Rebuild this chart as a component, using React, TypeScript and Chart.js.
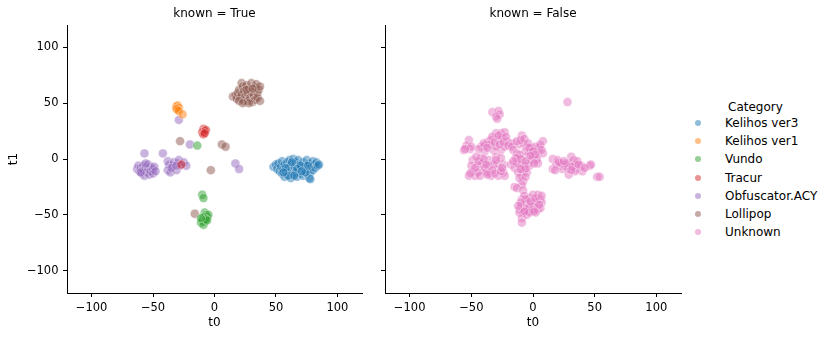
import React, { useEffect, useRef } from 'react';
import { Chart, registerables } from 'chart.js';

Chart.register(...registerables);

const FONT = "'DejaVu Sans', sans-serif";
const TEXT_COLOR = '#000';

const CATEGORIES = ['Kelihos ver3', 'Kelihos ver1', 'Vundo', 'Tracur', 'Obfuscator.ACY', 'Lollipop', 'Unknown'];
const COLORS = ['#1f77b4', '#ff7f0e', '#2ca02c', '#d62728', '#9467bd', '#8c564b', '#e377c2'];
const PANEL_TITLES = ['known = True', 'known = False'];
const X_TICKS = [-100, -50, 0, 50, 100];
const Y_TICKS = [-100, -50, 0, 50, 100];
const AXIS_MIN = -120;
const AXIS_MAX = 120;

// known = True
const kelihosVer3: number[][] = [
  [48, -7], [50, -5], [51, -9], [52, -4], [53, -11], [54, -7], [55, -2], [55, -13], [56, -9], [57, -5],
  [57, -16], [58, -11], [59, -3], [59, -14], [60, -8], [61, -1], [61, -12], [62, -5], [62, -17], [63, -10],
  [64, 0], [64, -14], [65, -7], [66, -3], [66, -12], [67, -16], [68, -9], [68, -1], [69, -5], [70, -13],
  [71, -8], [72, -3], [72, -15], [73, -10], [74, -6], [75, -1], [75, -13], [76, -9], [77, -4], [77, -17],
  [78, -12], [78, -18], [79, -7], [80, -2], [80, -10], [81, -5], [82, -8], [83, -3], [84, -6], [85, -5],
  [58, -8], [63, -3], [67, -9], [70, -6], [74, -12], [60, -15], [56, -12], [65, -15], [76, -6], [71, -11],
];
const kelihosVer1: number[][] = [
  [-31, 47], [-30, 48], [-29, 46], [-30, 44], [-31, 45], [-29, 43], [-26, 40],
];
const vundo: number[][] = [
  [-14, 12], [-10, -32], [-9, -35], [-8, -48], [-7, -50], [-6, -52], [-5, -50], [-9, -52], [-10, -55],
  [-8, -56], [-11, -57], [-9, -59], [-7, -54], [-6, -55], [-11, -53],
];
const tracur: number[][] = [
  [-9, 27], [-8, 25], [-10, 24], [-9, 22], [-7, 26], [-8, 23], [-27, -5],
];
const obfuscatorACY: number[][] = [
  [-29, 35], [-20, 13], [-42, 5], [-57, 5], [17, -4], [20, -9],
  [-63, -9], [-62, -6], [-61, -11], [-60, -8], [-59, -13], [-58, -6], [-58, -10], [-57, -15], [-56, -8],
  [-55, -12], [-54, -5], [-54, -9], [-53, -14], [-52, -7], [-52, -11], [-50, -9], [-50, -13], [-49, -7],
  [-48, -11], [-60, -12], [-56, -4],
  [-38, -2], [-37, -5], [-38, -10], [-36, -12], [-34, -6], [-33, -3], [-31, -10], [-30, -4], [-29, -1],
  [-28, -6], [-25, -3], [-23, -6], [-35, -8], [-31, -6],
];
const lollipop: number[][] = [
  [-28, 16], [6, 13], [9, 11], [-3, -10], [-16, -49],
  [15, 56], [17, 57], [18, 54], [19, 59], [20, 62], [21, 55], [22, 68], [22, 58], [23, 65], [24, 52],
  [24, 61], [25, 56], [26, 66], [27, 59], [27, 52], [28, 63], [29, 55], [30, 68], [30, 60], [31, 51],
  [32, 57], [33, 64], [33, 53], [34, 67], [35, 59], [35, 55], [36, 62], [37, 52], [37, 65], [20, 52],
  [26, 62], [31, 63], [28, 50], [23, 50],
];

// known = False
const unknown: number[][] = [
  [28, 51],
  [-33, 42], [-28, 43], [-27, 40], [-30, 38], [-29, 36],
  [-52, 17], [-54, 12], [-56, 8], [-51, 9], [-50, 11], [-55, 9],
  [-42, 11], [-39, 12], [-36, 16], [-34, 17], [-30, 23], [-26, 23], [-23, 24], [-28, 17], [-25, 19],
  [-21, 16], [-19, 14], [-15, 14], [-11, 13], [-9, 21], [-8, 14], [-5, 11], [-1, 10], [1, 6], [4, 5],
  [5, 10], [8, 16], [8, 5], [-39, 7], [-32, 8], [-26, 8], [-30, 11], [-35, 13], [-23, 11],
  [-44, 9], [-40, 14], [-37, 10], [-33, 20], [-31, 15], [-28, 21], [-27, 13], [-24, 15], [-22, 20], [-20, 12],
  [-17, 11], [-13, 16], [-10, 17], [-7, 18], [-4, 14], [-2, 6], [2, 11], [6, 13], [3, 1], [7, 8],
  [-49, -1], [-50, -6], [-49, -11], [-52, -15], [-47, -15], [-42, 1], [-41, -4], [-42, -10], [-39, -8],
  [-36, -1], [-36, -6], [-35, -12], [-34, -15], [-30, 2], [-29, -4], [-28, -9], [-28, -15], [-24, -5],
  [-24, -12], [-23, -15], [-32, -5], [-38, -12], [-45, -5], [-45, -12], [-26, 1],
  [-47, -8], [-44, -2], [-40, 0], [-38, -5], [-33, -10], [-31, -13], [-26, -11], [-25, -8], [-30, -1],
  [-46, 2], [-51, -13], [-43, -15], [-37, -14],
  [-16, 8], [-13, 5], [-12, 1], [-11, -4], [-9, -6], [-8, -11], [-9, -15], [-8, -20], [-5, 2], [-4, -4],
  [-3, -6], [-1, -1], [0, 2], [3, -1], [4, -4], [-6, 7], [-3, 10], [-18, -5], [-15, -8], [-12, -12],
  [-13, -4], [-7, -6], [-11, 4], [0, 7], [2, 4], [-5, -12], [-9, -23],
  [-14, 1], [-10, 0], [-6, -2], [-2, 3], [-6, -9], [-10, -9], [-11, -17], [-6, -16], [1, -4], [-16, -2],
  [-15, -25], [-13, -26], [-8, -28],
  [-9, -36], [-7, -33], [-3, -35], [0, -32], [4, -32], [6, -36], [7, -39], [3, -38], [-1, -39], [-5, -40],
  [-9, -42], [-11, -45], [-8, -48], [-4, -46], [0, -45], [4, -45], [6, -44], [1, -42], [-7, -44], [-3, -43],
  [-11, -48], [-9, -53], [-9, -57], [2, -48], [-5, -50],
  [-6, -36], [-2, -38], [2, -35], [5, -41], [-10, -39], [-3, -48], [1, -47], [-7, -47], [-12, -42], [7, -33],
  [16, 0], [16, -9], [19, -5], [20, -1], [22, -6], [24, -9], [23, -4], [26, -6], [28, -8], [29, -14],
  [30, -4], [31, 2], [33, -1], [34, -5], [35, -9], [36, -2], [39, -6], [40, -11], [34, -11], [46, -6],
  [47, -5], [52, -16], [54, -16], [18, -10], [27, -4],
  [21, -3], [25, -2], [32, -7], [37, -5], [42, -8], [31, -10],
];

const KNOWN_SERIES = [kelihosVer3, kelihosVer1, vundo, tracur, obfuscatorACY, lollipop];
const UNKNOWN_SERIES = [unknown];

function rgba(hex: string, a: number) {
  const n = parseInt(hex.slice(1), 16);
  return `rgba(${(n >> 16) & 255}, ${(n >> 8) & 255}, ${n & 255}, ${a})`;
}

const fmt = (v: number | string) => {
  const n = Number(v);
  return n < 0 ? '\u2212' + Math.abs(n) : String(n);
};

function makeDataset(label: string, color: string, pts: number[][]) {
  return {
    label,
    data: pts.map(([x, y]) => ({ x, y })),
    backgroundColor: rgba(color, 0.5),
    borderColor: 'rgba(255,255,255,0.5)',
    borderWidth: 0.75,
    pointRadius: 4.5,
    pointHoverRadius: 4.5,
  };
}

type PanelProps = {
  left: number;
  width: number;
  title: string;
  datasets: any[];
  showYLabels: boolean;
  yAxisWidth: number;
  padRight: number;
};

function Panel({ left, width, title, datasets, showYLabels, yAxisWidth, padRight }: PanelProps) {
  const ref = useRef<HTMLCanvasElement>(null);
  useEffect(() => {
    const tickFont = { family: FONT, size: 11.5 };
    const labelFont = { family: FONT, size: 12 };
    const grid = {
      display: true,
      drawOnChartArea: false,
      drawTicks: true,
      tickLength: 4,
      color: '#000',
      lineWidth: 1,
    };
    const chart = new Chart(ref.current!, {
      type: 'scatter',
      data: { datasets },
      options: {
        animation: false,
        responsive: false,
        events: [],
        layout: { padding: { left: 0, right: padRight, top: 0, bottom: 0 } },
        plugins: {
          legend: { display: false },
          tooltip: { enabled: false },
          title: {
            display: true,
            text: title,
            fullSize: false,
            color: TEXT_COLOR,
            font: { family: FONT, size: 12, weight: 'normal' },
            padding: { top: 7, bottom: 3.6 },
          },
        },
        scales: {
          x: {
            type: 'linear',
            min: AXIS_MIN,
            max: AXIS_MAX,
            afterBuildTicks: (s: any) => {
              s.ticks = X_TICKS.map((v) => ({ value: v }));
            },
            afterFit: (s: any) => {
              s.height = 47;
            },
            ticks: { callback: fmt, font: tickFont, color: TEXT_COLOR, padding: 4, maxRotation: 0, autoSkip: false },
            grid,
            border: { display: true, color: '#000', width: 1 },
            title: { display: true, text: 't0', font: labelFont, color: TEXT_COLOR, padding: { top: 0, bottom: 10 } },
          },
          y: {
            type: 'linear',
            min: AXIS_MIN,
            max: AXIS_MAX,
            afterBuildTicks: (s: any) => {
              s.ticks = Y_TICKS.map((v) => ({ value: v }));
            },
            afterFit: (s: any) => {
              s.width = yAxisWidth;
            },
            ticks: {
              callback: showYLabels ? fmt : () => '',
              font: tickFont,
              color: TEXT_COLOR,
              padding: 4.5,
              autoSkip: false,
            },
            grid,
            border: { display: true, color: '#000', width: 1 },
            title: { display: showYLabels, text: 't1', font: labelFont, color: TEXT_COLOR, padding: { top: 6.8, bottom: 0 } },
          },
        },
      } as any,
    });
    return () => chart.destroy();
  }, []);
  return (
    <div style={{ position: 'absolute', left, top: 0, width, height: 340 }}>
      <canvas ref={ref} width={width} height={340} style={{ width, height: 340, display: 'block' }} />
    </div>
  );
}

function Legend() {
  const rowTop = 123.3;
  const rowStep = 18.07;
  return (
    <div style={{ position: 'absolute', left: 0, top: 0, fontFamily: FONT, fontSize: 12, color: TEXT_COLOR }}>
      <div style={{ position: 'absolute', left: 728, top: 100, lineHeight: '14px', whiteSpace: 'nowrap' }}>Category</div>
      {CATEGORIES.map((c, i) => (
        <React.Fragment key={c}>
          <div
            style={{
              position: 'absolute',
              left: 698 - 3,
              top: rowTop + i * rowStep - 3,
              width: 6,
              height: 6,
              borderRadius: '50%',
              background: rgba(COLORS[i], 0.5),
            }}
          />
          <div style={{ position: 'absolute', left: 725, top: rowTop + i * rowStep - 7, lineHeight: '14px', whiteSpace: 'nowrap' }}>
            {c}
          </div>
        </React.Fragment>
      ))}
    </div>
  );
}

export default function App() {
  const knownSets = KNOWN_SERIES.map((pts, i) => makeDataset(CATEGORIES[i], COLORS[i], pts));
  const unknownSets = UNKNOWN_SERIES.map((pts) => makeDataset(CATEGORIES[6], COLORS[6], pts));
  return (
    <div style={{ position: 'absolute', left: 0, top: 0, width: 831, height: 340, background: '#fff', overflow: 'hidden' }}>
      <Panel left={0} width={380} title={PANEL_TITLES[0]} datasets={knownSets} showYLabels={true} yAxisWidth={67} padRight={18} />
      <Panel left={370} width={320} title={PANEL_TITLES[1]} datasets={unknownSets} showYLabels={false} yAxisWidth={15} padRight={9} />
      <Legend />
    </div>
  );
}
